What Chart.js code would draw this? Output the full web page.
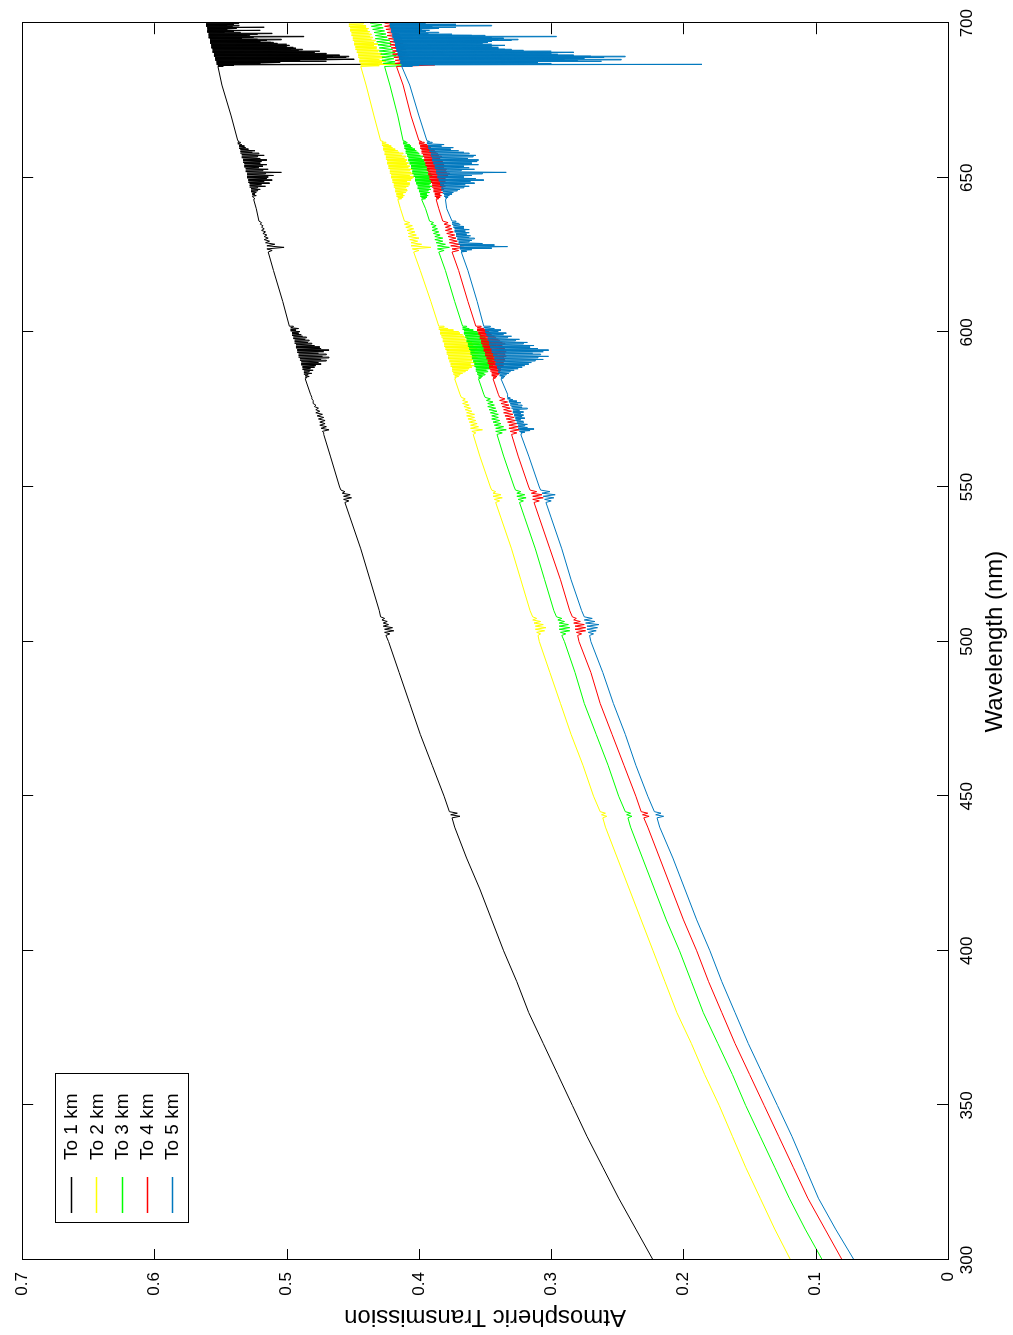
<!DOCTYPE html>
<html>
<head>
<meta charset="utf-8">
<title>Atmospheric Transmission</title>
<script src="https://cdn.jsdelivr.net/npm/chart.js@4.4.1/dist/chart.umd.min.js"></script>
<style>
  html, body { margin: 0; padding: 0; background: #fff; overflow: hidden; }
  /* the plot is laid out landscape and turned a quarter turn to stand upright */
  #wrap {
    position: absolute; left: 0; top: 0;
    width: 1335px; height: 1013px;
    transform-origin: 0 0;
    transform: translateY(1335px) rotate(-90deg);
  }
</style>
</head>
<body>
<div id="wrap"><canvas id="transmissionChart" width="1335" height="1013"></canvas></div>
<script>
// Atmospheric transmission vs wavelength, path to 1..5 km

const wavelengths = [300, 310, 320, 330, 340, 350, 360, 370, 380, 390, 400, 410, 420, 430, 440,
  450, 460, 470, 480, 490, 500, 510, 520, 530, 540, 550, 560, 570, 580, 590, 600, 610, 620,
  630, 640, 650, 660, 670, 680, 690, 700];

const base1km = [0.223, 0.236, 0.249, 0.261, 0.273, 0.284, 0.295, 0.306, 0.317, 0.326, 0.336,
  0.345, 0.354, 0.364, 0.373, 0.381, 0.390, 0.399, 0.407, 0.415, 0.423, 0.430, 0.437, 0.444,
  0.452, 0.460, 0.467, 0.475, 0.482, 0.489, 0.496, 0.503, 0.510, 0.517, 0.523, 0.530, 0.536,
  0.542, 0.549, 0.555, 0.560];
const base2km = [0.119, 0.131, 0.142, 0.153, 0.163, 0.173, 0.184, 0.194, 0.205, 0.214, 0.223,
  0.232, 0.241, 0.250, 0.259, 0.268, 0.276, 0.285, 0.293, 0.301, 0.309, 0.316, 0.323, 0.330,
  0.338, 0.346, 0.354, 0.361, 0.369, 0.376, 0.384, 0.391, 0.399, 0.406, 0.414, 0.421, 0.428,
  0.434, 0.440, 0.446, 0.453];
const base3km = [0.095, 0.108, 0.120, 0.131, 0.142, 0.153, 0.163, 0.174, 0.185, 0.194, 0.203,
  0.213, 0.222, 0.231, 0.240, 0.249, 0.257, 0.266, 0.275, 0.282, 0.290, 0.298, 0.305, 0.312,
  0.320, 0.328, 0.336, 0.343, 0.351, 0.358, 0.366, 0.373, 0.380, 0.388, 0.395, 0.403, 0.410,
  0.416, 0.422, 0.429, 0.435];
const base4km = [0.080, 0.093, 0.106, 0.117, 0.128, 0.139, 0.150, 0.161, 0.171, 0.181, 0.190,
  0.200, 0.209, 0.218, 0.227, 0.236, 0.245, 0.254, 0.263, 0.270, 0.279, 0.286, 0.293, 0.301,
  0.309, 0.317, 0.325, 0.332, 0.340, 0.348, 0.355, 0.363, 0.370, 0.377, 0.385, 0.392, 0.399,
  0.406, 0.412, 0.419, 0.426];
const base5km = [0.071, 0.085, 0.098, 0.108, 0.118, 0.129, 0.140, 0.151, 0.161, 0.171, 0.180,
  0.190, 0.199, 0.208, 0.218, 0.227, 0.236, 0.244, 0.253, 0.261, 0.270, 0.277, 0.285, 0.292,
  0.300, 0.309, 0.317, 0.325, 0.333, 0.340, 0.348, 0.356, 0.363, 0.371, 0.379, 0.386, 0.393,
  0.400, 0.407, 0.414, 0.421];

// absorption bands: edge values every `step` nm from `start`, dip values half a step later
const bands1km = [
  { start: 443, step: 1, edge: [0.375, 0.376, 0.377], dip: [0.369, 0.371] },
  { start: 502, step: 1, edge: [0.425, 0.426, 0.426, 0.427, 0.427, 0.428, 0.429],
    dip: [0.422, 0.419, 0.420, 0.423, 0.424, 0.426] },
  { start: 545, step: 1, edge: [0.456, 0.457, 0.457, 0.458, 0.459], dip: [0.453, 0.451, 0.452, 0.456] },
  { start: 567, step: 1,
    edge: [0.472, 0.473, 0.474, 0.475, 0.475, 0.476, 0.477, 0.478, 0.478, 0.479, 0.480, 0.480, 0.481],
    dip: [0.472, 0.468, 0.470, 0.471, 0.471, 0.472, 0.473, 0.475, 0.476, 0.478, 0.480, 0.481] },
  { start: 585, step: 0.5,
    edge: [0.486, 0.486, 0.486, 0.487, 0.487, 0.487, 0.488, 0.488, 0.488, 0.489, 0.489, 0.489,
      0.490, 0.490, 0.491, 0.491, 0.491, 0.492, 0.492, 0.492, 0.493, 0.493, 0.493, 0.494, 0.494,
      0.494, 0.495, 0.495, 0.496, 0.496, 0.496, 0.497, 0.497, 0.497, 0.498],
    dip: [0.485, 0.483, 0.484, 0.481, 0.483, 0.480, 0.482, 0.479, 0.478, 0.474, 0.476, 0.470,
      0.474, 0.468, 0.473, 0.470, 0.476, 0.472, 0.468, 0.474, 0.475, 0.479, 0.481, 0.484, 0.483,
      0.486, 0.485, 0.488, 0.489, 0.491, 0.490, 0.493, 0.491, 0.495] },
  { start: 626, step: 1,
    edge: [0.514, 0.515, 0.515, 0.516, 0.517, 0.517, 0.518, 0.519, 0.519, 0.520, 0.521],
    dip: [0.511, 0.502, 0.509, 0.513, 0.514, 0.515, 0.516, 0.517, 0.518, 0.519] },
  { start: 643, step: 0.5,
    edge: [0.525, 0.525, 0.526, 0.526, 0.526, 0.527, 0.527, 0.527, 0.528, 0.528, 0.528, 0.529,
      0.529, 0.529, 0.530, 0.530, 0.530, 0.530, 0.531, 0.531, 0.531, 0.532, 0.532, 0.532, 0.533,
      0.533, 0.533, 0.534, 0.534, 0.534, 0.535, 0.535, 0.535, 0.536, 0.536, 0.536, 0.537, 0.537,
      0.537],
    dip: [0.524, 0.525, 0.523, 0.524, 0.523, 0.522, 0.520, 0.522, 0.516, 0.519, 0.513, 0.517,
      0.511, 0.515, 0.514, 0.510, 0.516, 0.504, 0.518, 0.514, 0.521, 0.518, 0.515, 0.520, 0.519,
      0.515, 0.520, 0.522, 0.517, 0.521, 0.526, 0.524, 0.529, 0.531, 0.532, 0.534, 0.535, 0.536] },
  { start: 686, step: 0.25,
    edge: [0.552, 0.552, 0.552, 0.553, 0.553, 0.553, 0.553, 0.553, 0.554, 0.554, 0.554, 0.554,
      0.554, 0.555, 0.555, 0.555, 0.555, 0.555, 0.556, 0.556, 0.556, 0.556, 0.556, 0.556, 0.557,
      0.557, 0.557, 0.557, 0.557, 0.557, 0.558, 0.558, 0.558, 0.558, 0.558, 0.558, 0.558, 0.559,
      0.559, 0.559, 0.559, 0.559, 0.559, 0.559, 0.560, 0.560, 0.560, 0.560, 0.560, 0.560, 0.560,
      0.560, 0.561, 0.561, 0.561, 0.561, 0.561],
    dip: [0.548, 0.540, 0.431, 0.520, 0.519, 0.505, 0.470, 0.490, 0.475, 0.449, 0.470, 0.455,
      0.453, 0.465, 0.460, 0.470, 0.470, 0.482, 0.479, 0.475, 0.491, 0.488, 0.497, 0.493, 0.495,
      0.500, 0.504, 0.498, 0.500, 0.507, 0.510, 0.512, 0.520, 0.515, 0.504, 0.522, 0.534, 0.525,
      0.487, 0.528, 0.530, 0.522, 0.511, 0.535, 0.547, 0.540, 0.520, 0.545, 0.545, 0.538, 0.517,
      0.541, 0.536, 0.545, 0.540, 0.536] }
];

const bands2km = [
  { start: 443, step: 1, edge: [0.261, 0.262, 0.263], dip: [0.258, 0.259] },
  { start: 502, step: 1, edge: [0.310, 0.311, 0.312, 0.312, 0.313, 0.314, 0.314],
    dip: [0.308, 0.305, 0.304, 0.306, 0.308, 0.311] },
  { start: 545, step: 1, edge: [0.342, 0.343, 0.344, 0.344, 0.345], dip: [0.339, 0.337, 0.338, 0.342] },
  { start: 567, step: 1,
    edge: [0.359, 0.360, 0.361, 0.361, 0.362, 0.363, 0.364, 0.364, 0.365, 0.366, 0.367, 0.367, 0.368],
    dip: [0.357, 0.352, 0.355, 0.356, 0.357, 0.358, 0.358, 0.360, 0.361, 0.362, 0.363, 0.365] },
  { start: 585, step: 0.5,
    edge: [0.373, 0.373, 0.373, 0.374, 0.374, 0.375, 0.375, 0.375, 0.376, 0.376, 0.376, 0.377,
      0.377, 0.378, 0.378, 0.378, 0.379, 0.379, 0.379, 0.380, 0.380, 0.381, 0.381, 0.381, 0.382,
      0.382, 0.382, 0.383, 0.383, 0.384, 0.384, 0.384, 0.385, 0.385, 0.385],
    dip: [0.372, 0.370, 0.369, 0.367, 0.365, 0.363, 0.362, 0.360, 0.358, 0.361, 0.357, 0.360,
      0.359, 0.356, 0.357, 0.360, 0.355, 0.358, 0.358, 0.356, 0.361, 0.359, 0.355, 0.360, 0.362,
      0.365, 0.363, 0.366, 0.367, 0.369, 0.370, 0.374, 0.378, 0.381] },
  { start: 626, step: 1,
    edge: [0.404, 0.405, 0.406, 0.406, 0.407, 0.408, 0.408, 0.409, 0.410, 0.411, 0.411],
    dip: [0.400, 0.391, 0.398, 0.401, 0.400, 0.402, 0.403, 0.404, 0.405, 0.407] },
  { start: 643, step: 0.5,
    edge: [0.416, 0.416, 0.417, 0.417, 0.417, 0.418, 0.418, 0.418, 0.419, 0.419, 0.419, 0.420,
      0.420, 0.420, 0.421, 0.421, 0.421, 0.422, 0.422, 0.422, 0.423, 0.423, 0.423, 0.424, 0.424,
      0.424, 0.425, 0.425, 0.425, 0.426, 0.426, 0.426, 0.427, 0.427, 0.427, 0.428, 0.428, 0.428,
      0.429],
    dip: [0.413, 0.412, 0.411, 0.412, 0.410, 0.409, 0.409, 0.410, 0.408, 0.407, 0.407, 0.409,
      0.406, 0.405, 0.404, 0.407, 0.404, 0.406, 0.407, 0.405, 0.408, 0.407, 0.409, 0.408, 0.410,
      0.409, 0.411, 0.410, 0.413, 0.412, 0.415, 0.416, 0.418, 0.420, 0.421, 0.423, 0.425, 0.427] },
  { start: 686, step: 0.5,
    edge: [0.444, 0.444, 0.444, 0.445, 0.445, 0.445, 0.446, 0.446, 0.446, 0.447, 0.447, 0.448,
      0.448, 0.448, 0.449, 0.449, 0.449, 0.450, 0.450, 0.450, 0.451, 0.451, 0.451, 0.452, 0.452,
      0.452, 0.453, 0.453, 0.453],
    dip: [0.430, 0.415, 0.428, 0.425, 0.430, 0.427, 0.426, 0.429, 0.428, 0.431, 0.430, 0.432,
      0.432, 0.434, 0.431, 0.434, 0.433, 0.436, 0.435, 0.437, 0.436, 0.438, 0.437, 0.439, 0.438,
      0.440, 0.440, 0.442] }
];

const bands3km = [
  { start: 443, step: 1, edge: [0.242, 0.243, 0.244], dip: [0.239, 0.240] },
  { start: 502, step: 1, edge: [0.292, 0.293, 0.294, 0.294, 0.294, 0.295, 0.296],
    dip: [0.289, 0.286, 0.286, 0.287, 0.290, 0.292] },
  { start: 545, step: 1, edge: [0.324, 0.325, 0.326, 0.326, 0.327], dip: [0.321, 0.319, 0.320, 0.323] },
  { start: 567, step: 1,
    edge: [0.341, 0.342, 0.342, 0.343, 0.344, 0.345, 0.345, 0.346, 0.347, 0.348, 0.348, 0.349, 0.350],
    dip: [0.337, 0.334, 0.336, 0.338, 0.339, 0.340, 0.340, 0.341, 0.342, 0.343, 0.344, 0.346] },
  { start: 585, step: 0.5,
    edge: [0.355, 0.355, 0.355, 0.356, 0.356, 0.357, 0.357, 0.357, 0.358, 0.358, 0.358, 0.359,
      0.359, 0.360, 0.360, 0.360, 0.361, 0.361, 0.361, 0.362, 0.362, 0.363, 0.363, 0.363, 0.364,
      0.364, 0.364, 0.365, 0.365, 0.366, 0.366, 0.366, 0.367, 0.367, 0.367],
    dip: [0.353, 0.352, 0.350, 0.351, 0.348, 0.349, 0.346, 0.347, 0.344, 0.346, 0.343, 0.345,
      0.342, 0.344, 0.343, 0.341, 0.341, 0.344, 0.343, 0.345, 0.344, 0.342, 0.342, 0.345, 0.347,
      0.349, 0.350, 0.352, 0.353, 0.355, 0.356, 0.359, 0.362, 0.364] },
  { start: 626, step: 1,
    edge: [0.385, 0.386, 0.386, 0.387, 0.388, 0.388, 0.389, 0.390, 0.390, 0.391, 0.392],
    dip: [0.381, 0.377, 0.380, 0.382, 0.382, 0.384, 0.385, 0.386, 0.387, 0.389] },
  { start: 643, step: 0.5,
    edge: [0.398, 0.398, 0.399, 0.399, 0.399, 0.400, 0.400, 0.401, 0.401, 0.401, 0.402, 0.402,
      0.403, 0.403, 0.403, 0.404, 0.404, 0.405, 0.405, 0.405, 0.406, 0.406, 0.406, 0.407, 0.407,
      0.408, 0.408, 0.408, 0.409, 0.409, 0.410, 0.410, 0.410, 0.411, 0.411, 0.411, 0.412, 0.412,
      0.412],
    dip: [0.395, 0.394, 0.393, 0.394, 0.392, 0.393, 0.391, 0.392, 0.390, 0.392, 0.391, 0.390,
      0.390, 0.392, 0.392, 0.390, 0.391, 0.393, 0.393, 0.392, 0.394, 0.393, 0.395, 0.394, 0.396,
      0.395, 0.398, 0.397, 0.399, 0.400, 0.401, 0.402, 0.403, 0.405, 0.406, 0.407, 0.409, 0.410] },
  { start: 686, step: 1,
    edge: [0.426, 0.427, 0.428, 0.428, 0.429, 0.430, 0.430, 0.431, 0.432, 0.433, 0.433, 0.434,
      0.435, 0.436, 0.437],
    dip: [0.400, 0.418, 0.419, 0.417, 0.418, 0.420, 0.421, 0.421, 0.422, 0.424, 0.425, 0.426,
      0.427, 0.428] }
];

const bands4km = [
  { start: 443, step: 1, edge: [0.230, 0.231, 0.232], dip: [0.226, 0.227] },
  { start: 502, step: 1, edge: [0.280, 0.281, 0.282, 0.282, 0.283, 0.283, 0.284],
    dip: [0.277, 0.274, 0.274, 0.275, 0.278, 0.281] },
  { start: 545, step: 1, edge: [0.313, 0.314, 0.314, 0.315, 0.316], dip: [0.309, 0.306, 0.307, 0.311] },
  { start: 567, step: 1,
    edge: [0.330, 0.331, 0.332, 0.332, 0.333, 0.334, 0.335, 0.336, 0.336, 0.337, 0.338, 0.339, 0.339],
    dip: [0.326, 0.324, 0.325, 0.326, 0.327, 0.328, 0.329, 0.330, 0.331, 0.332, 0.333, 0.335] },
  { start: 585, step: 0.5,
    edge: [0.344, 0.344, 0.345, 0.345, 0.345, 0.346, 0.346, 0.347, 0.347, 0.347, 0.348, 0.348,
      0.348, 0.349, 0.349, 0.350, 0.350, 0.350, 0.351, 0.351, 0.351, 0.352, 0.352, 0.353, 0.353,
      0.353, 0.354, 0.354, 0.354, 0.355, 0.355, 0.356, 0.356, 0.356, 0.357],
    dip: [0.342, 0.341, 0.340, 0.339, 0.339, 0.338, 0.338, 0.337, 0.336, 0.337, 0.336, 0.335,
      0.335, 0.336, 0.334, 0.335, 0.335, 0.334, 0.336, 0.335, 0.336, 0.337, 0.335, 0.337, 0.339,
      0.340, 0.342, 0.343, 0.345, 0.346, 0.347, 0.349, 0.351, 0.353] },
  { start: 626, step: 1,
    edge: [0.375, 0.375, 0.376, 0.377, 0.377, 0.378, 0.379, 0.380, 0.380, 0.381, 0.382],
    dip: [0.370, 0.366, 0.369, 0.371, 0.372, 0.373, 0.374, 0.375, 0.376, 0.378] },
  { start: 643, step: 0.5,
    edge: [0.387, 0.387, 0.388, 0.388, 0.388, 0.389, 0.389, 0.389, 0.390, 0.390, 0.390, 0.391,
      0.391, 0.392, 0.392, 0.392, 0.393, 0.393, 0.393, 0.394, 0.394, 0.394, 0.395, 0.395, 0.395,
      0.396, 0.396, 0.396, 0.397, 0.397, 0.398, 0.398, 0.398, 0.399, 0.399, 0.399, 0.400, 0.400,
      0.400],
    dip: [0.385, 0.384, 0.383, 0.384, 0.382, 0.383, 0.381, 0.382, 0.380, 0.381, 0.379, 0.380,
      0.378, 0.380, 0.379, 0.378, 0.377, 0.379, 0.380, 0.379, 0.381, 0.380, 0.381, 0.382, 0.382,
      0.383, 0.384, 0.383, 0.385, 0.386, 0.387, 0.388, 0.389, 0.391, 0.392, 0.394, 0.396, 0.398] },
  { start: 686, step: 1,
    edge: [0.417, 0.418, 0.418, 0.419, 0.420, 0.420, 0.421, 0.422, 0.422, 0.423, 0.424, 0.424,
      0.425, 0.426, 0.426],
    dip: [0.388, 0.410, 0.409, 0.408, 0.409, 0.410, 0.411, 0.412, 0.413, 0.414, 0.415, 0.416,
      0.417, 0.418] }
];

const bands5km = [
  { start: 443, step: 1, edge: [0.220, 0.221, 0.222], dip: [0.215, 0.217] },
  { start: 502, step: 1, edge: [0.271, 0.272, 0.273, 0.273, 0.274, 0.275, 0.275],
    dip: [0.268, 0.266, 0.265, 0.264, 0.267, 0.269] },
  { start: 545, step: 1, edge: [0.304, 0.305, 0.306, 0.307, 0.308], dip: [0.300, 0.298, 0.297, 0.301] },
  { start: 567, step: 0.5,
    edge: [0.323, 0.323, 0.324, 0.324, 0.325, 0.325, 0.325, 0.326, 0.326, 0.327, 0.327, 0.327,
      0.328, 0.328, 0.329, 0.329, 0.329, 0.330, 0.330, 0.331, 0.331, 0.332, 0.332, 0.333, 0.333],
    dip: [0.322, 0.320, 0.316, 0.313, 0.318, 0.320, 0.318, 0.321, 0.321, 0.323, 0.320, 0.322,
      0.321, 0.323, 0.321, 0.324, 0.318, 0.322, 0.322, 0.325, 0.323, 0.326, 0.329, 0.331] },
  { start: 585, step: 0.5,
    edge: [0.338, 0.338, 0.339, 0.339, 0.340, 0.340, 0.340, 0.341, 0.341, 0.342, 0.342, 0.342,
      0.343, 0.343, 0.343, 0.344, 0.344, 0.345, 0.345, 0.345, 0.346, 0.346, 0.347, 0.347, 0.347,
      0.348, 0.348, 0.348, 0.349, 0.349, 0.350, 0.350, 0.350, 0.351, 0.351],
    dip: [0.336, 0.335, 0.334, 0.332, 0.331, 0.328, 0.325, 0.322, 0.320, 0.317, 0.315, 0.312,
      0.306, 0.310, 0.302, 0.308, 0.314, 0.306, 0.302, 0.310, 0.316, 0.313, 0.321, 0.318, 0.327,
      0.324, 0.333, 0.330, 0.336, 0.334, 0.340, 0.338, 0.343, 0.346] },
  { start: 626, step: 0.5,
    edge: [0.368, 0.368, 0.369, 0.369, 0.369, 0.370, 0.370, 0.370, 0.371, 0.371, 0.372, 0.372,
      0.372, 0.373, 0.373, 0.373, 0.374, 0.374, 0.375, 0.375, 0.375],
    dip: [0.364, 0.360, 0.345, 0.333, 0.343, 0.352, 0.362, 0.360, 0.358, 0.362, 0.361, 0.364,
      0.362, 0.365, 0.362, 0.366, 0.366, 0.369, 0.370, 0.372] },
  { start: 643, step: 0.5,
    edge: [0.380, 0.380, 0.381, 0.381, 0.382, 0.382, 0.383, 0.383, 0.383, 0.384, 0.384, 0.384,
      0.385, 0.385, 0.386, 0.386, 0.386, 0.387, 0.387, 0.387, 0.388, 0.388, 0.388, 0.389, 0.389,
      0.390, 0.390, 0.390, 0.391, 0.391, 0.391, 0.392, 0.392, 0.393, 0.393, 0.393, 0.394, 0.394,
      0.394],
    dip: [0.379, 0.378, 0.377, 0.375, 0.374, 0.371, 0.369, 0.366, 0.362, 0.365, 0.358, 0.361,
      0.351, 0.357, 0.366, 0.360, 0.352, 0.334, 0.368, 0.358, 0.362, 0.366, 0.355, 0.360, 0.356,
      0.355, 0.363, 0.359, 0.357, 0.362, 0.366, 0.370, 0.376, 0.374, 0.383, 0.381, 0.390, 0.392] },
  { start: 686, step: 0.25,
    edge: [0.413, 0.413, 0.413, 0.413, 0.414, 0.414, 0.414, 0.414, 0.414, 0.415, 0.415, 0.415,
      0.415, 0.415, 0.416, 0.416, 0.416, 0.416, 0.416, 0.416, 0.417, 0.417, 0.417, 0.417, 0.417,
      0.417, 0.418, 0.418, 0.418, 0.418, 0.418, 0.418, 0.419, 0.419, 0.419, 0.419, 0.419, 0.419,
      0.420, 0.420, 0.420, 0.420, 0.420, 0.420, 0.421, 0.421, 0.421, 0.421, 0.421, 0.421, 0.421,
      0.422, 0.422, 0.422, 0.422, 0.422, 0.422],
    dip: [0.405, 0.400, 0.186, 0.300, 0.340, 0.310, 0.262, 0.280, 0.247, 0.290, 0.275, 0.260,
      0.244, 0.270, 0.283, 0.295, 0.300, 0.310, 0.283, 0.300, 0.321, 0.330, 0.335, 0.340, 0.340,
      0.345, 0.350, 0.335, 0.345, 0.352, 0.355, 0.348, 0.345, 0.330, 0.325, 0.340, 0.336, 0.345,
      0.296, 0.350, 0.360, 0.375, 0.393, 0.385, 0.400, 0.395, 0.392, 0.398, 0.398, 0.385, 0.372,
      0.390, 0.345, 0.372, 0.372, 0.395] }
];

const seriesLabels = ['To 1 km', 'To 2 km', 'To 3 km', 'To 4 km', 'To 5 km'];
const seriesColors = ['#000000', '#ffff00', '#00ff00', '#ff0000', '#0078be'];

const xTicks = [300, 350, 400, 450, 500, 550, 600, 650, 700];
const yTicks = [0, 0.1, 0.2, 0.3, 0.4, 0.5, 0.6, 0.7];

const FONT = '"Liberation Sans", Arial, Helvetica, sans-serif';

// merge the smooth curve with its band samples into one x/y list
function buildSeries(base, bands) {
  const pts = [];
  const inBand = w => bands.some(b => w >= b.start && w <= b.start + (b.edge.length - 1) * b.step);
  wavelengths.forEach((w, i) => {
    if (!inBand(w)) pts.push({ x: w, y: base[i] });
  });
  bands.forEach(b => {
    b.edge.forEach((v, i) => {
      pts.push({ x: b.start + i * b.step, y: v });
      if (i < b.dip.length) pts.push({ x: b.start + (i + 0.5) * b.step, y: b.dip[i] });
    });
  });
  return pts.sort((a, b) => a.x - b.x);
}

const seriesData = [
  buildSeries(base1km, bands1km),
  buildSeries(base2km, bands2km),
  buildSeries(base3km, bands3km),
  buildSeries(base4km, bands4km),
  buildSeries(base5km, bands5km)
];

// box, inward ticks, axis titles and legend, drawn the MATLAB way
const framePlugin = {
  id: 'frame',
  afterDraw(chart) {
    const { ctx, chartArea: a, scales } = chart;
    const tick = 11;
    ctx.save();
    ctx.strokeStyle = '#000';
    ctx.lineWidth = 1;
    ctx.strokeRect(Math.round(a.left) + 0.5, Math.round(a.top) + 0.5,
      Math.round(a.right - a.left), Math.round(a.bottom - a.top));

    ctx.beginPath();
    xTicks.forEach(v => {
      const px = Math.round(scales.x.getPixelForValue(v)) + 0.5;
      ctx.moveTo(px, a.bottom); ctx.lineTo(px, a.bottom - tick);
      ctx.moveTo(px, a.top); ctx.lineTo(px, a.top + tick);
    });
    yTicks.forEach(v => {
      const py = Math.round(scales.y.getPixelForValue(v)) + 0.5;
      ctx.moveTo(a.left, py); ctx.lineTo(a.left + tick, py);
      ctx.moveTo(a.right, py); ctx.lineTo(a.right - tick, py);
    });
    ctx.stroke();

    // axis titles
    ctx.fillStyle = '#000';
    ctx.font = '24px ' + FONT;
    ctx.textAlign = 'center';
    ctx.textBaseline = 'middle';
    ctx.fillText('Wavelength (nm)', (a.left + a.right) / 2, 995);
    ctx.save();
    ctx.translate(18, (a.top + a.bottom) / 2);
    ctx.rotate(-Math.PI / 2);
    ctx.fillText('Atmospheric Transmission', 0, 0);
    ctx.restore();

    // legend
    const lx = 112, ly = 55, lw = 149, lh = 133;
    ctx.fillStyle = '#fff';
    ctx.fillRect(lx, ly, lw, lh);
    ctx.strokeRect(lx + 0.5, ly + 0.5, lw, lh);
    ctx.font = '19px ' + FONT;
    ctx.textAlign = 'left';
    chart.data.datasets.forEach((ds, i) => {
      const y = ly + 16 + i * 25.3;
      ctx.strokeStyle = ds.borderColor;
      ctx.lineWidth = 1.5;
      ctx.beginPath();
      ctx.moveTo(lx + 10, Math.round(y) + 0.5);
      ctx.lineTo(lx + 46, Math.round(y) + 0.5);
      ctx.stroke();
      ctx.fillStyle = '#000';
      ctx.fillText(ds.label, lx + 63, y + 1);
    });
    ctx.restore();
  }
};

const ctx = document.getElementById('transmissionChart');

new Chart(ctx, {
  type: 'line',
  data: {
    datasets: seriesData.map((pts, i) => ({
      label: seriesLabels[i],
      data: pts,
      borderColor: seriesColors[i],
      backgroundColor: seriesColors[i],
      borderWidth: 1,
      pointRadius: 0,
      tension: 0,
      fill: false,
      order: 4 - i
    }))
  },
  options: {
    responsive: false,
    animation: false,
    events: [],
    layout: { padding: { top: 20, right: 20, left: 0, bottom: 0 } },
    plugins: {
      legend: { display: false },
      tooltip: { enabled: false }
    },
    scales: {
      x: {
        type: 'linear',
        min: 300,
        max: 700,
        afterBuildTicks: scale => { scale.ticks = xTicks.map(v => ({ value: v })); },
        afterFit: scale => { scale.height = 65; },
        grid: { display: false, drawTicks: false },
        border: { display: false },
        ticks: {
          color: '#000',
          padding: 9,
          maxRotation: 0,
          font: { family: FONT, size: 17 },
          callback: v => String(v)
        }
      },
      y: {
        type: 'linear',
        min: 0,
        max: 0.7,
        afterBuildTicks: scale => { scale.ticks = yTicks.map(v => ({ value: v })); },
        afterFit: scale => { scale.width = 75; },
        grid: { display: false, drawTicks: false },
        border: { display: false },
        ticks: {
          color: '#000',
          padding: 12,
          font: { family: FONT, size: 17 },
          callback: v => (v === 0 ? '0' : v.toFixed(1))
        }
      }
    }
  },
  plugins: [framePlugin]
});
</script>
</body>
</html>
